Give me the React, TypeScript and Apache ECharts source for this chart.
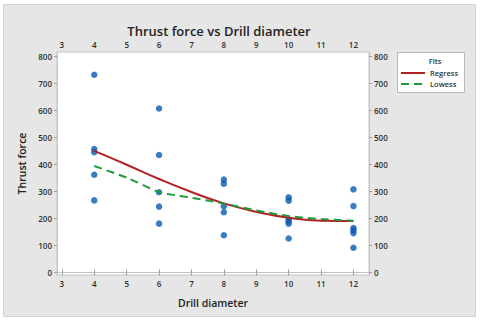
import React, { useEffect, useRef } from "react";
import * as echarts from "echarts";

const xTicks = [3, 4, 5, 6, 7, 8, 9, 10, 11, 12];
const yTicks = [0, 100, 200, 300, 400, 500, 600, 700, 800];

const diameter4 = [731, 456, 444, 361, 266];
const diameter6 = [606, 434, 296, 243, 180];
const diameter8 = [343, 328, 244, 222, 137];
const diameter10 = [277, 265, 196, 188, 180, 125];
const diameter12 = [307, 245, 164, 155, 145, 91];

const regressX = [4, 5, 6, 7, 8, 9, 10, 11, 12];
const regressY = [449, 398, 345, 297, 255, 224, 202, 191, 190];

const lowessX = [4, 5, 6, 6.5, 7, 8, 9, 10, 11, 12];
const lowessY = [393, 350, 297, 285, 276, 254, 229, 208, 197, 191];

const AXIS_FONT = "'Open Sans', sans-serif";

export default function App() {
  const ref = useRef<HTMLDivElement>(null);
  useEffect(() => {
    if (!ref.current) return;
    const chart = echarts.init(ref.current, null, { renderer: "svg" });
    const points: number[][] = [];
    const groups: [number, number[]][] = [
      [4, diameter4],
      [6, diameter6],
      [8, diameter8],
      [10, diameter10],
      [12, diameter12],
    ];
    groups.forEach(([x, ys]) => ys.forEach((y) => points.push([x, y])));

    const labelStyle = { fontSize: 8, color: "#2e2e2e", fontFamily: AXIS_FONT, fontWeight: 600 };
    const tickStyle = { show: true, length: 3, lineStyle: { color: "#a0a0a0" } };
    const lineStyle = { show: true, lineStyle: { color: "#c4c4c4" } };

    const xBase = {
      type: "value" as const,
      min: 2.85,
      max: 12.48,
      splitLine: { show: false },
      axisLine: lineStyle,
      axisTick: { ...tickStyle, customValues: xTicks },
      axisLabel: { ...labelStyle, customValues: xTicks, margin: 4 },
    };
    const yBase = {
      type: "value" as const,
      min: -10,
      max: 815,
      splitLine: { show: false },
      axisLine: lineStyle,
      axisTick: { ...tickStyle, customValues: yTicks },
      axisLabel: { ...labelStyle, customValues: yTicks, margin: 5 },
    };

    chart.setOption({
      animation: false,
      backgroundColor: "#ffffff",
      title: {
        text: "Thrust force vs Drill diameter",
        left: 214,
        top: 19,
        textAlign: "center",
        textStyle: {
          fontSize: 13,
          fontWeight: 600,
          color: "#222",
          fontFamily: AXIS_FONT,
        },
      },
      graphic: [
        {
          type: "rect",
          z: -10,
          silent: true,
          shape: { x: 3.5, y: 4.5, width: 472, height: 312 },
          style: { fill: "#e6e6e6", stroke: "#d4d4d4", lineWidth: 1 },
        },
        {
          type: "rect",
          z: 5,
          shape: { x: 397.5, y: 52.5, width: 67, height: 40 },
          style: { fill: "#ffffff", stroke: "#b8b8b8", lineWidth: 1 },
        },
        {
          type: "text",
          z: 6,
          x: 435,
          y: 61,
          style: {
            text: "Fits",
            fontSize: 7.5,
            fontWeight: 600,
            fill: "#333",
            fontFamily: AXIS_FONT,
            align: "center",
            verticalAlign: "middle",
          },
        },
      ],
      legend: {
        left: 400,
        top: 69,
        padding: 0,
        orient: "vertical",
        itemWidth: 24,
        itemHeight: 8,
        itemGap: 3,
        z: 10,
        itemStyle: { opacity: 0 },
        textStyle: { fontSize: 7.5, fontWeight: 600, color: "#333", fontFamily: AXIS_FONT },
        data: ["Regress", "Lowess"],
      },
      grid: {
        left: 57,
        top: 52,
        right: 111,
        bottom: 48,
        show: true,
        backgroundColor: "#ffffff",
        borderColor: "#c4c4c4",
        borderWidth: 1,
      },
      xAxis: [
        {
          ...xBase,
          position: "bottom",
          name: "Drill diameter",
          nameLocation: "middle",
          nameGap: 22,
          nameTextStyle: { fontSize: 10.5, fontWeight: 600, color: "#222", fontFamily: AXIS_FONT },
        },
        { ...xBase, position: "top" },
      ],
      yAxis: [
        {
          ...yBase,
          position: "left",
          name: "Thrust force",
          nameLocation: "middle",
          nameGap: 22,
          nameTextStyle: { fontSize: 10.5, fontWeight: 600, color: "#222", fontFamily: AXIS_FONT },
        },
        { ...yBase, position: "right" },
      ],
      series: [
        {
          type: "scatter",
          name: "Data",
          data: points,
          symbolSize: 6.5,
          itemStyle: { color: "#0a5ab0" },
          z: 3,
        },
        {
          type: "line",
          name: "Regress",
          data: regressX.map((x, i) => [x, regressY[i]]),
          smooth: true,
          symbol: "none",
          lineStyle: { color: "#b22222", width: 2 },
          itemStyle: { color: "#b22222" },
          z: 4,
        },
        {
          type: "line",
          name: "Lowess",
          data: lowessX.map((x, i) => [x, lowessY[i]]),
          smooth: 0.3,
          symbol: "none",
          lineStyle: { color: "#1e9a3a", width: 2, type: [8, 5] },
          itemStyle: { color: "#1e9a3a" },
          z: 4,
        },
      ],
    });
    return () => chart.dispose();
  }, []);
  return (
    <div
      ref={ref}
      style={{ position: "fixed", left: 0, top: 0, width: 480, height: 323 }}
    />
  );
}
